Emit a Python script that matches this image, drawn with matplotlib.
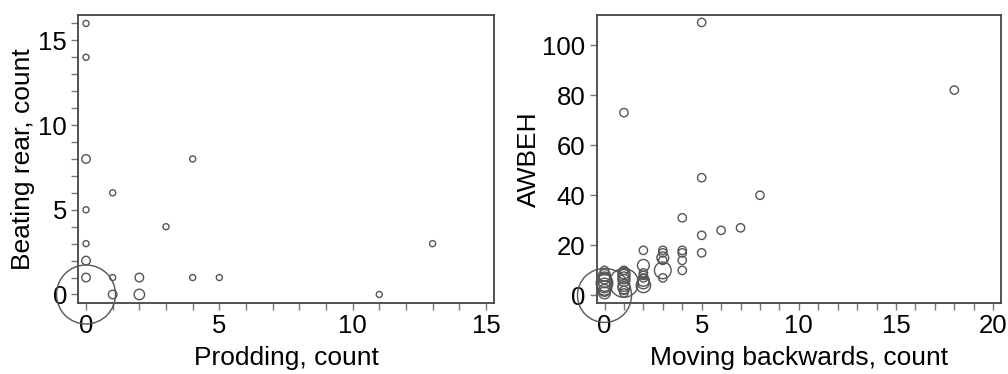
import matplotlib.pyplot as plt
from matplotlib.ticker import MultipleLocator

OUT = "out.png"

# left panel: prodding vs beating rear (n = number of animals at that point)
PROD_X = [0, 0, 0, 0, 0, 0, 0, 0, 1, 1, 1, 2, 2, 3, 4, 4, 5, 11, 13]
PROD_Y = [16, 14, 8, 5, 3, 2, 1, 0, 6, 1, 0, 1, 0, 4, 8, 1, 1, 0, 3]
PROD_N = [1, 1, 2, 1, 1, 2, 2, 95, 1, 1, 2, 2, 3, 1, 1, 1, 1, 1, 1]

# right panel: moving backwards vs AWBEH
BACK_X = [0, 0, 0, 0, 0, 0, 0, 0, 0, 0,
          1, 1, 1, 1, 1, 1, 1, 1, 1, 1,
          2, 2, 2, 2, 2, 2, 2, 2,
          3, 3, 3, 3, 3, 3,
          4, 4, 4, 4, 4,
          5, 5, 5, 5,
          6, 7, 8, 1, 18]
BACK_Y = [0, 10, 8, 7, 6, 5, 4, 3, 2, 1,
          5, 10, 9, 8, 7, 6, 4, 3, 2, 1,
          18, 12, 9, 8, 7, 6, 5, 4,
          18, 17, 15, 14, 10, 7,
          31, 18, 17, 14, 10,
          109, 47, 24, 17,
          26, 27, 40, 73, 82]
BACK_N = [42, 1, 2, 2, 3, 4, 3, 3, 2, 2,
          12, 1, 2, 2, 2, 2, 2, 2, 1, 1,
          1, 2, 1, 1, 1, 2, 2, 3,
          1, 1, 2, 1, 4, 1,
          1, 1, 1, 1, 1,
          1, 1, 1, 1,
          1, 1, 1, 1, 1]

plt.rcParams.update({"font.family": "Liberation Sans", "font.size": 19})
fig = plt.figure(figsize=(10.08, 3.74), dpi=100)
axL = fig.add_axes([0.0774, 0.19, 0.4126, 0.77])
axR = fig.add_axes([0.592, 0.19, 0.401, 0.77])

RING = "#555555"
axL.scatter(PROD_X, PROD_Y, s=[19 * n for n in PROD_N], facecolors="none",
            edgecolors=RING, linewidths=1.0, zorder=3, clip_on=False)
axR.scatter(BACK_X, BACK_Y, s=[36 * n for n in BACK_N], facecolors="none",
            edgecolors=RING, linewidths=1.0, zorder=3, clip_on=False)

axL.set_xlim(-0.3, 15.3)
axL.set_ylim(-0.5, 16.5)
axL.xaxis.set_major_locator(MultipleLocator(5))
axL.xaxis.set_minor_locator(MultipleLocator(1))
axL.yaxis.set_major_locator(MultipleLocator(5))
axL.yaxis.set_minor_locator(MultipleLocator(1))
axL.set_xlabel("Prodding, count", labelpad=6)
axL.set_ylabel("Beating rear, count", labelpad=2)

axR.set_xlim(-0.4, 20.4)
axR.set_ylim(-3, 112)
axR.xaxis.set_major_locator(MultipleLocator(5))
axR.xaxis.set_minor_locator(MultipleLocator(1))
axR.yaxis.set_major_locator(MultipleLocator(20))
axR.set_xlabel("Moving backwards, count", labelpad=6)
axR.set_ylabel("AWBEH", labelpad=1)

for ax in (axL, axR):
    for sp in ax.spines.values():
        sp.set_color("#444444")
        sp.set_linewidth(1.3)
    ax.tick_params(which="both", direction="out", length=5, width=1, color="#777777",
                   labelsize=18.5, pad=3)

fig.savefig(OUT, dpi=100)
print(f"wrote {OUT}")
